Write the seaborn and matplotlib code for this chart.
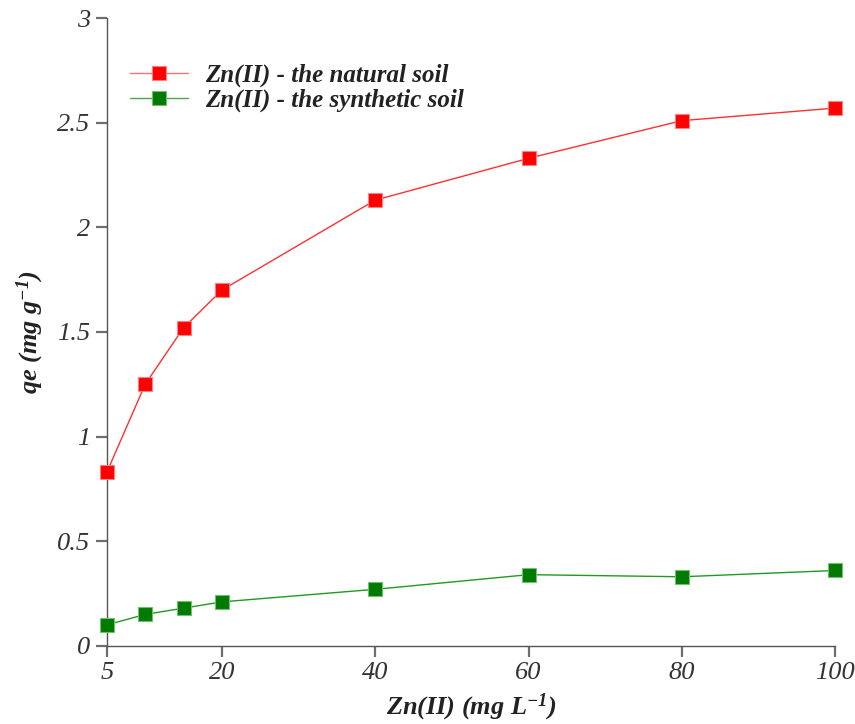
import matplotlib
matplotlib.use("Agg")
import matplotlib.pyplot as plt
import seaborn as sns
import pandas as pd

# Initial Zn(II) concentration (mg/L) and equilibrium uptake qe (mg/g)
concentration = [5, 10, 15, 20, 40, 60, 80, 100]
qe_natural = [0.83, 1.25, 1.52, 1.70, 2.13, 2.33, 2.51, 2.57]
qe_synthetic = [0.10, 0.15, 0.18, 0.21, 0.27, 0.34, 0.33, 0.36]
series_names = ["Zn(II) - the natural soil", "Zn(II) - the synthetic soil"]
x_ticks = [5, 20, 40, 60, 80, 100]
y_ticks = [0, 0.5, 1, 1.5, 2, 2.5, 3]
y_tick_labels = ["0", "0.5", "1", "1.5", "2", "2.5", "3"]

df = pd.DataFrame({
    "conc": concentration * 2,
    "qe": qe_natural + qe_synthetic,
    "series": [series_names[0]] * len(concentration) + [series_names[1]] * len(concentration),
})

sns.set_theme(style="ticks")
plt.rcParams["font.family"] = ["Liberation Serif", "DejaVu Serif"]
plt.rcParams["font.style"] = "italic"
plt.rcParams["mathtext.fontset"] = "custom"
plt.rcParams["mathtext.it"] = "Liberation Serif:italic:bold"
plt.rcParams["mathtext.rm"] = "Liberation Serif:italic:bold"
plt.rcParams["mathtext.default"] = "it"

fig = plt.figure(figsize=(8.55, 7.24), dpi=100)
ax = fig.add_axes([0.125, 0.108, 0.852, 0.867])

palette = {series_names[0]: "#ff0000", series_names[1]: "#007a00"}
sns.lineplot(data=df, x="conc", y="qe", hue="series", palette=palette,
             marker="s", markersize=10, linewidth=1.0, ax=ax,
             markeredgewidth=0.8, legend=True)
for line, lc, ec in zip(ax.lines, ["#ff3030", "#229922"], ["#ff8080", "#70c070"]):
    fc = line.get_color()
    line.set_markerfacecolor(fc)
    line.set_markeredgecolor(ec)
    line.set_color(lc)
    line.set_clip_on(False)
    line.set_zorder(3)

ax.set_xlim(5, 100)
ax.set_ylim(0, 3)
ax.set_xticks(x_ticks)
ax.set_yticks(y_ticks)
ax.set_yticklabels(y_tick_labels)
ax.tick_params(axis="both", which="major", direction="out", length=8, width=1.6,
               color="#6e6e6e", labelsize=19, labelcolor="#333333", pad=4,
               bottom=True, left=True, top=False, right=False)
for s in ["top", "right"]:
    ax.spines[s].set_visible(False)
for s in ["left", "bottom"]:
    ax.spines[s].set_color("#555555")
    ax.spines[s].set_linewidth(1.0)

ax.set_xlabel(r"Zn(II) (mg L$^{-1}$)", fontsize=19, fontweight="bold",
              color="#222222", labelpad=5)
ax.set_ylabel(r"qe (mg g$^{-1}$)", fontsize=19, fontweight="bold",
              color="#222222", labelpad=8)

leg = ax.legend(loc="upper left", bbox_to_anchor=(0.032, 0.927), frameon=False,
                fontsize=18, handlelength=2.3, handletextpad=0.7,
                labelspacing=0.05, borderaxespad=0, borderpad=0)
for t in leg.get_texts():
    t.set_fontweight("bold")
    t.set_color("#222222")
for h, fc, lc, ec in zip(leg.legend_handles, ["#ff0000", "#007a00"],
                         ["#ff7070", "#44aa44"], ["#ff8080", "#70c070"]):
    h.set_color(lc)
    h.set_markerfacecolor(fc)
    h.set_markeredgecolor(ec)

fig.savefig("out.png", dpi=100)
